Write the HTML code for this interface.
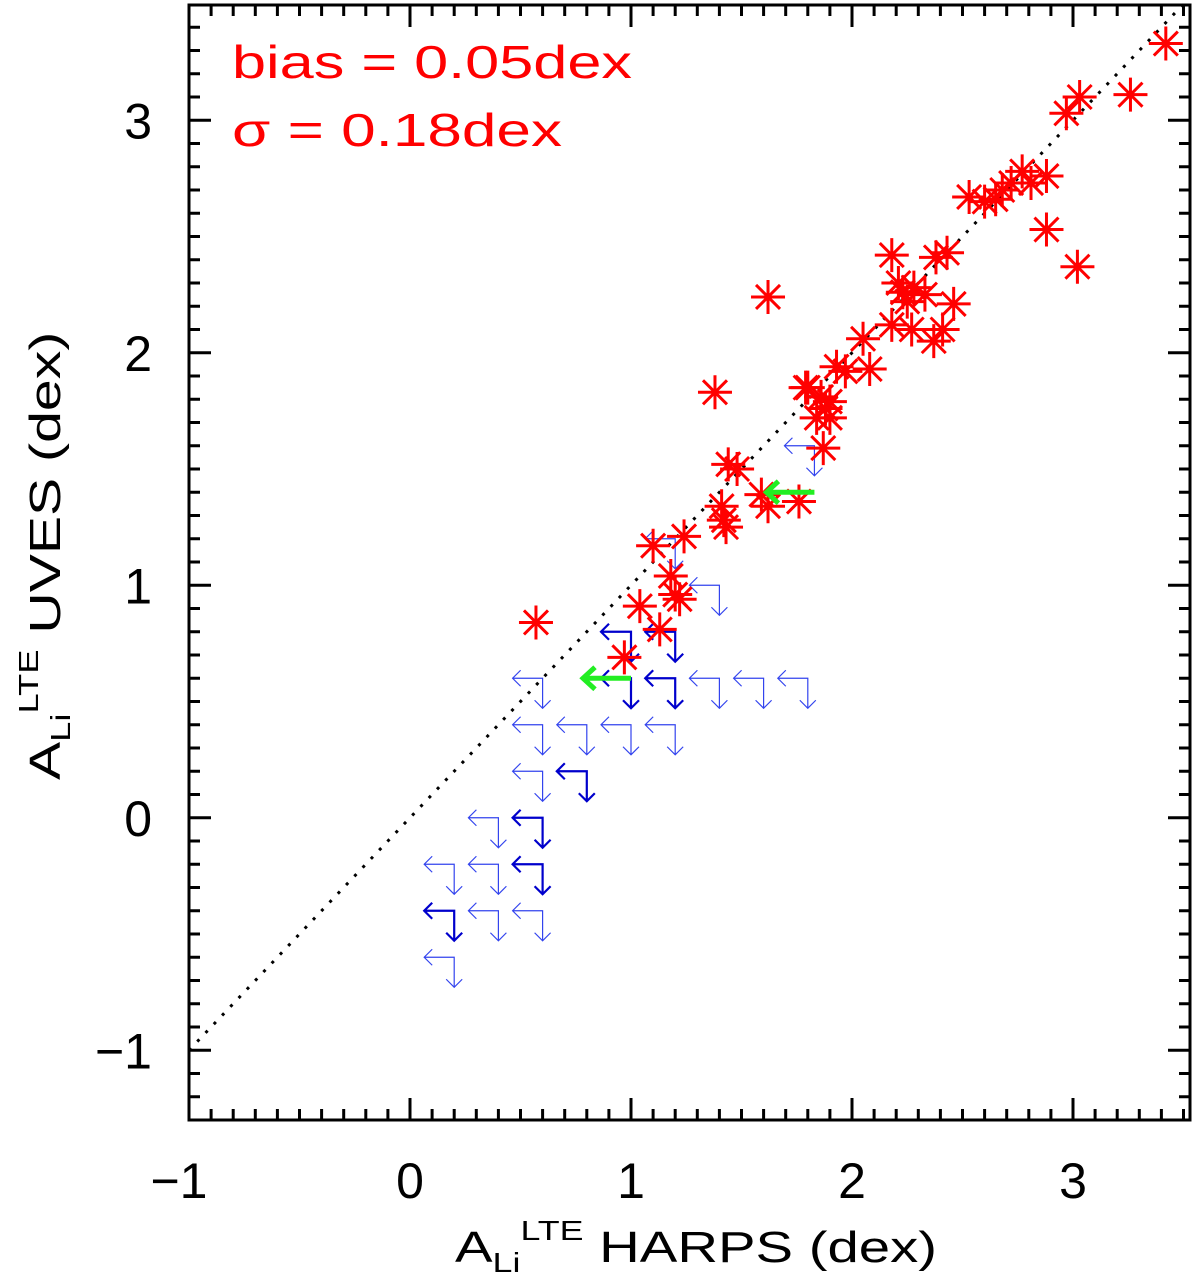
<!DOCTYPE html>
<html><head><meta charset="utf-8"><style>
html,body{margin:0;padding:0;background:#fff}
svg text{font-family:"Liberation Sans","DejaVu Sans",sans-serif}
</style></head><body>
<svg id="chart" xmlns="http://www.w3.org/2000/svg" width="1200" height="1276" viewBox="0 0 1200 1276">
<g id="marks"></g>
<g id="axes"></g>
<text x="232" y="78" font-size="46" fill="#ff0000" textLength="400" lengthAdjust="spacingAndGlyphs">bias = 0.05dex</text>
<text x="232" y="146" font-size="46" fill="#ff0000" textLength="330" lengthAdjust="spacingAndGlyphs">σ = 0.18dex</text>
<g transform="translate(455,1262) scale(1.28,1)">
<text x="0" y="0" font-size="44" fill="#000">A<tspan font-size="28" dy="10">Li</tspan><tspan font-size="28" dy="-32">LTE</tspan><tspan dy="22"> HARPS (dex)</tspan></text>
</g>
<g transform="translate(60,780) rotate(-90) scale(1.3,1)">
<text x="0" y="0" font-size="44" fill="#000">A<tspan font-size="28" dy="10">Li</tspan><tspan font-size="28" dy="-32">LTE</tspan><tspan dy="22"> UVES (dex)</tspan></text>
</g>
</svg>
<script>
const starX=[0.57,0.97,1.04,1.10,1.13,1.18,1.22,1.20,1.24,1.38,1.41,1.43,1.44,1.48,1.42,1.59,1.62,1.62,1.76,1.80,1.87,1.86,1.90,1.84,1.90,1.79,1.93,1.97,2.08,2.05,2.37,2.41,2.27,2.18,2.46,2.23,2.28,2.33,2.18,2.38,2.43,2.53,2.60,2.65,2.68,2.72,2.77,2.81,2.88,2.88,3.02,2.97,3.03,3.26,3.42,1.88,2.21,2.25];
const starY=[0.84,0.69,0.91,1.17,0.81,1.04,0.94,0.96,1.21,1.83,1.34,1.25,1.52,1.50,1.28,1.39,1.34,2.24,1.36,1.85,1.59,1.81,1.79,1.72,1.72,1.85,1.94,1.92,1.93,2.06,2.05,2.10,2.10,2.12,2.21,2.26,2.28,2.25,2.42,2.41,2.43,2.67,2.65,2.66,2.70,2.73,2.78,2.73,2.76,2.53,2.37,3.03,3.10,3.11,3.33,1.76,2.30,2.22];
const limX=[0.6,1.0,1.2,1.4,1.6,1.8,0.6,0.8,1.0,1.2,0.6,0.8,1.0,1.2,1.4,1.2,1.83,0.4,0.6,0.2,0.4,0.6,0.2,0.4,0.6,0.2];
const limY=[0.6,0.6,0.6,0.6,0.6,0.6,0.4,0.4,0.4,0.4,0.2,0.2,0.8,0.8,1.0,1.2,1.6,0.0,0.0,-0.2,-0.2,-0.2,-0.4,-0.4,-0.4,-0.6];
const limDark=[0,1,1,0,0,0,0,0,0,0,0,1,1,1,0,0,0,0,1,0,0,1,1,0,0,0];
const greenX=[1.0,1.83];
const greenY=[0.6,1.4];
const xTicks=[-1,0,1,2,3];
const yTicks=[-1,0,1,2,3];

const L=189,R=1190,T=5,B=1120;
const X0=-1,X1=(R-L)/221-1;
const Y0=-1.3,Y1=-1.3+(B-T)/232.5;
const sx=v=>L+(v-X0)/(X1-X0)*(R-L);
const sy=v=>B-(v-Y0)/(Y1-Y0)*(B-T);
const NS="http://www.w3.org/2000/svg";
const marks=document.getElementById('marks'),axes=document.getElementById('axes');
function mk(tag,attrs,parent){const e=document.createElementNS(NS,tag);for(const k in attrs)e.setAttribute(k,attrs[k]);parent.appendChild(e);return e;}

const ln=mk('line',{x1:sx(-1),y1:sy(-1),x2:sx(X1),y2:sy(X1),stroke:'#000','stroke-width':3,'stroke-dasharray':'3 9'},marks);



limX.forEach((v,i)=>{
  const cx=sx(v),cy=sy(limY[i]);
  const col=limDark[i]?'#0000cc':'#3344ee', w=limDark[i]?2.2:1.2;
  const p=`M${cx-30},${cy} L${cx},${cy} L${cx},${cy+30} M${cx-22},${cy-8} L${cx-30},${cy} L${cx-22},${cy+8} M${cx-8},${cy+22} L${cx},${cy+30} L${cx+8},${cy+22}`;
  const e=mk('path',{d:p,fill:'none',stroke:col,'stroke-width':w},marks);
  
  
});
starX.forEach((v,i)=>{
  const cx=sx(v),cy=sy(starY[i]),r=17,d=12;
  const p=`M${cx-r},${cy} L${cx+r},${cy} M${cx},${cy-r} L${cx},${cy+r} M${cx-d},${cy-d} L${cx+d},${cy+d} M${cx-d},${cy+d} L${cx+d},${cy-d}`;
  const e=mk('path',{d:p,fill:'none',stroke:'#ff0000','stroke-width':3},marks);
  
  
});
greenX.forEach((v,i)=>{
  const cx=sx(v),cy=sy(greenY[i]);
  const p=`M${cx},${cy} L${cx-48},${cy} M${cx-36},${cy-11} L${cx-48},${cy} L${cx-36},${cy+11}`;
  const e=mk('path',{d:p,fill:'none',stroke:'#22ee22','stroke-width':5},marks);
  
  
});

const fr=mk('rect',{x:L,y:T,width:R-L,height:B-T,fill:'none',stroke:'#000','stroke-width':3},axes);


let tp='';
for(let k=-10;k<=45;k++){const v=k/10;if(v<X0-1e-9||v>X1)continue;const x=sx(v),len=(k%10===0)?22:11;tp+=`M${x},${B} L${x},${B-len} M${x},${T} L${x},${T+len} `;}
for(let k=-13;k<=35;k++){const v=k/10;if(v<Y0-1e-9||v>Y1)continue;const y=sy(v),len=(k%10===0)?22:11;tp+=`M${L},${y} L${L+len},${y} M${R},${y} L${R-len},${y} `;}
const tk=mk('path',{d:tp,stroke:'#000','stroke-width':3,fill:'none'},axes);


xTicks.forEach(v=>{const t=mk('text',{x:sx(v)+(v<0?-10:0),y:1198,'font-size':50,'text-anchor':'middle',fill:'#000'},axes);t.textContent=(v<0?'\u2212':'')+Math.abs(v);
 
 });
yTicks.forEach(v=>{const t=mk('text',{x:152,y:sy(v)+18,'font-size':50,'text-anchor':'end',fill:'#000'},axes);t.textContent=(v<0?'\u2212':'')+Math.abs(v);
 
 });
</script>
</body></html>
